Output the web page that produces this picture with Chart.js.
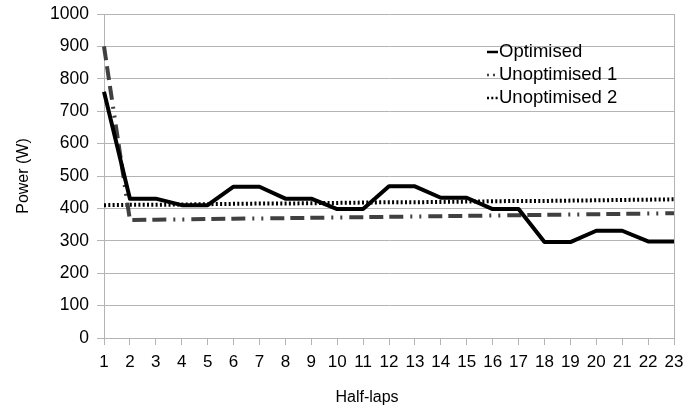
<!DOCTYPE html>
<html><head><meta charset="utf-8">
<script src="https://cdn.jsdelivr.net/npm/chart.js@4"></script>
<style>html,body{margin:0;padding:0;background:#fff}canvas{display:block}</style>
</head><body>
<canvas id="c" width="686" height="411"></canvas>
<script>
const halfLaps = ['1','2','3','4','5','6','7','8','9','10','11','12','13','14','15','16','17','18','19','20','21','22','23'];
const optimised = [760, 430, 430, 410, 410, 467, 467, 430, 430, 398, 398, 468, 468, 433, 433, 398, 398, 296, 296, 331, 331, 298, 298];
const unoptimised1 = [900, 364, 365, 366, 367, 368, 369, 370, 371, 372, 373, 374, 375, 376, 377, 378, 379, 380, 381, 382, 383, 384, 385];
const unoptimised2 = [410, 411, 411, 412, 413, 414, 415, 415, 416, 417, 418, 419, 419, 420, 421, 422, 423, 423, 424, 425, 426, 427, 428];
const seriesNames = ['Optimised', 'Unoptimised 1', 'Unoptimised 2'];
const yAxisTitle = 'Power (W)';
const xAxisTitle = 'Half-laps';

const FONT = '"Liberation Sans", Arial, sans-serif';
const GRID = '#b4b4b4';
Chart.defaults.font.family = FONT;
Chart.defaults.color = '#000';

const legendPlugin = {
  id: 'insideLegend',
  afterDatasetsDraw(chart) {
    const ctx = chart.ctx;
    const x0 = 487, x1 = 498, tx = 499, y0 = 52, dy = 23;
    chart.data.datasets.forEach((ds, i) => {
      const y = y0 + i * dy;
      ctx.save();
      ctx.strokeStyle = ds.borderColor;
      ctx.lineWidth = 2.5;
      ctx.setLineDash(ds.legendDash || []);
      ctx.beginPath(); ctx.moveTo(x0, y); ctx.lineTo(x1, y); ctx.stroke();
      ctx.setLineDash([]);
      ctx.fillStyle = '#000';
      ctx.font = '18.5px ' + FONT;
      ctx.textBaseline = 'middle';
      ctx.textAlign = 'left';
      ctx.fillText(ds.label, tx, y);
      ctx.restore();
    });
    // x axis title, placed as in the reference (left of the plot centre)
    ctx.save();
    ctx.fillStyle = '#000';
    ctx.font = '16px ' + FONT;
    ctx.textBaseline = 'middle';
    ctx.textAlign = 'center';
    ctx.fillText(xAxisTitle, 367, 398);
    ctx.restore();
  }
};

new Chart(document.getElementById('c'), {
  type: 'line',
  data: {
    labels: halfLaps,
    datasets: [
      { label: seriesNames[0], data: optimised, borderColor: '#000', borderWidth: 4, pointRadius: 0, tension: 0, borderJoinStyle: 'round', legendDash: [] },
      { label: seriesNames[1], data: unoptimised1, borderColor: '#404040', borderWidth: 4, pointRadius: 0, tension: 0, borderDash: [14, 6, 14, 6, 14, 7, 2, 7, 2, 7], legendDash: [2, 4] },
      { label: seriesNames[2], data: unoptimised2, borderColor: '#000', borderWidth: 4, pointRadius: 0, tension: 0, borderDash: [2, 2.3], legendDash: [2, 2.3] }
    ]
  },
  options: {
    responsive: false,
    animation: false,
    devicePixelRatio: 1,
    layout: { padding: { top: 14, right: 12, bottom: 0, left: 0 } },
    plugins: { legend: { display: false }, tooltip: { enabled: false } },
    scales: {
      x: {
        type: 'category',
        offset: false,
        afterFit: s => { s.height = 73; s.paddingLeft = 0; s.paddingRight = 0; },
        grid: {
          drawOnChartArea: true,
          color: c => (c.index === halfLaps.length - 1 ? GRID : 'rgba(0,0,0,0)'),
          tickColor: GRID,
          tickLength: 7,
          lineWidth: 1
        },
        border: { display: true, color: GRID },
        ticks: { autoSkip: false, maxRotation: 0, font: { size: 17 }, padding: 7, color: '#000' },
        title: { display: false }
      },
      y: {
        min: 0, max: 1000,
        afterFit: s => { s.width = 104; s.paddingTop = 0; s.paddingBottom = 0; },
        grid: { color: GRID, tickColor: GRID, tickLength: 7, lineWidth: 1 },
        border: { display: true, color: GRID },
        ticks: { stepSize: 100, font: { size: 17.5 }, padding: 8, color: '#000', callback: v => String(v) },
        title: { display: true, text: yAxisTitle, font: { size: 16 }, padding: { top: 14, bottom: 0 }, color: '#000' }
      }
    }
  },
  plugins: [legendPlugin]
});
</script>
</body></html>
